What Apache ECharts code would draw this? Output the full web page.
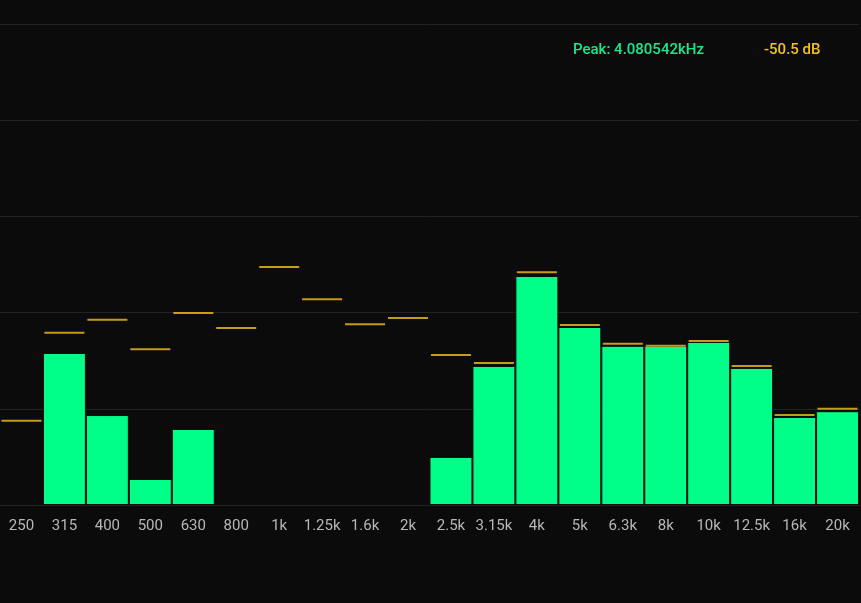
<!DOCTYPE html>
<html>
<head>
<meta charset="utf-8">
<script src="https://cdn.jsdelivr.net/npm/echarts@6/dist/echarts.min.js"></script>
<style>html,body{margin:0;background:#0b0b0c;}</style>
</head>
<body>
<div id="main" style="width:861px;height:603px;"></div>
<script>
// 频段标签
const bands = ['250','315','400','500','630','800','1k','1.25k','1.6k','2k','2.5k','3.15k','4k','5k','6.3k','8k','10k','12.5k','16k','20k'];
// 当前电平 (dB)，null 表示无柱
const levels = [null,-68.4,-81.3,-94.6,-84.2,null,null,null,null,null,-90.0,-71.1,-52.4,-63.0,-66.9,-66.9,-66.1,-71.5,-81.7,-80.5];
// 峰值保持 (dB)
const peaks = [-82.5,-64.2,-61.5,-67.6,-60.1,-63.2,-50.5,-57.2,-62.4,-61.1,-68.8,-70.5,-51.6,-62.6,-66.5,-66.9,-65.9,-71.1,-81.3,-80.0];
const FLOOR = -100;

// 柱子从底部 (-100 dB) 向上画
const toHeight = v => v == null ? null : v - FLOOR;

const chart = echarts.init(document.getElementById('main'));
chart.setOption({
    backgroundColor: '#0b0b0c',
    animation: false,
    grid: { left: -5, right: 2, top: 24, bottom: 98, containLabel: false },
    graphic: [
        { type: 'text', left: 573, top: 43, style: { text: 'Peak: 4.080542kHz', fill: '#1de68a', fontSize: 15, fontWeight: 500, fontFamily: 'Roboto' } },
        { type: 'text', left: 764, top: 43, style: { text: '-50.5 dB', fill: '#f2c21b', fontSize: 15, fontWeight: 500, fontFamily: 'Roboto' } }
    ],
    xAxis: {
        type: 'category',
        data: bands,
        axisLine: { show: false },
        axisTick: { show: false },
        axisLabel: { color: '#b8b8b8', fontSize: 15, fontFamily: 'Roboto', margin: 14, interval: 0 }
    },
    yAxis: {
        type: 'value', min: 0, max: 100, interval: 20,
        axisLabel: { show: false },
        splitLine: { lineStyle: { color: '#232323', width: 1 } }
    },
    series: [
        {
            type: 'bar',
            data: levels.map(toHeight),
            barCategoryGap: 0,
            itemStyle: { color: '#00ff88', borderColor: '#0b0b0c', borderWidth: 1 }
        },
        {
            type: 'scatter',
            data: peaks.map(toHeight),
            symbol: 'rect',
            symbolSize: [40, 2],
            itemStyle: { color: '#f2c21b' },
            z: 5
        }
    ]
});
</script>
</body>
</html>
